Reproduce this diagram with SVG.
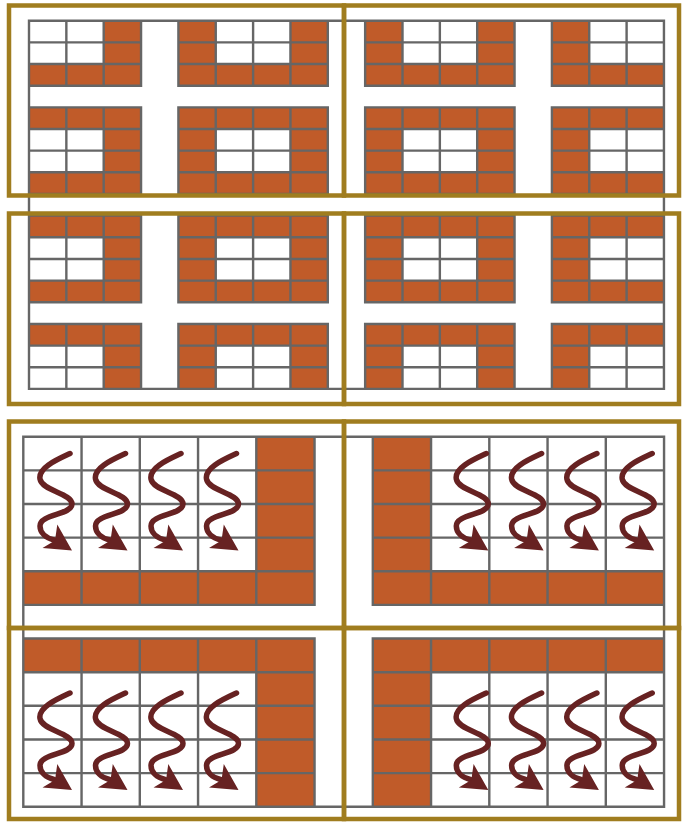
<svg xmlns="http://www.w3.org/2000/svg" width="683" height="822" viewBox="0 0 683 822">
<style>
.o{fill:#C05B29;fill-rule:evenodd}
.g{fill:none;stroke:#666;stroke-width:2.4;stroke-linecap:square}
.gold{fill:none;stroke:#A07D1F;stroke-width:4.5}
.aw{fill:none;stroke:#672222;stroke-width:5.5;stroke-linecap:round}
.ah{fill:#672222}
</style>
<defs>
<g id="arr">
<path class="aw" d="M70,453.5C56,460 38,468 40,479C42,491 72,493 72,504C72,515 40,514 40,526C40,533 46,538 54,540"/>
<path class="ah" d="M72,550.5L42.5,548L55,540.5L57.3,524.5Z"/>
</g>
</defs>
<rect width="683" height="822" fill="#fff"/>
<g id="top-grid" transform="translate(29,20.7) scale(37.35,21.66)">
<path class="o" d="M0,0H3V3H0Z M0,0H2V2H0Z M4,0H8V3H4Z M5,0H7V2H5Z M9,0H13V3H9Z M10,0H12V2H10Z M14,0H17V3H14Z M15,0H17V2H15Z
M0,4H3V8H0Z M0,5H2V7H0Z M4,4H8V8H4Z M5,5H7V7H5Z M9,4H13V8H9Z M10,5H12V7H10Z M14,4H17V8H14Z M15,5H17V7H15Z
M0,9H3V13H0Z M0,10H2V12H0Z M4,9H8V13H4Z M5,10H7V12H5Z M9,9H13V13H9Z M10,10H12V12H10Z M14,9H17V13H14Z M15,10H17V12H15Z
M0,14H3V17H0Z M0,15H2V17H0Z M4,14H8V17H4Z M5,15H7V17H5Z M9,14H13V17H9Z M10,15H12V17H10Z M14,14H17V17H14Z M15,15H17V17H15Z"/>
<path class="g" vector-effect="non-scaling-stroke" d="M0,0H17V17H0Z
M0,0V3M0,4V8M0,9V13M0,14V17
M1,0V3M1,4V8M1,9V13M1,14V17
M2,0V3M2,4V8M2,9V13M2,14V17
M3,0V3M3,4V8M3,9V13M3,14V17
M4,0V3M4,4V8M4,9V13M4,14V17
M5,0V3M5,4V8M5,9V13M5,14V17
M6,0V3M6,4V8M6,9V13M6,14V17
M7,0V3M7,4V8M7,9V13M7,14V17
M8,0V3M8,4V8M8,9V13M8,14V17
M9,0V3M9,4V8M9,9V13M9,14V17
M10,0V3M10,4V8M10,9V13M10,14V17
M11,0V3M11,4V8M11,9V13M11,14V17
M12,0V3M12,4V8M12,9V13M12,14V17
M13,0V3M13,4V8M13,9V13M13,14V17
M14,0V3M14,4V8M14,9V13M14,14V17
M15,0V3M15,4V8M15,9V13M15,14V17
M16,0V3M16,4V8M16,9V13M16,14V17
M17,0V3M17,4V8M17,9V13M17,14V17
M0,0H3M4,0H8M9,0H13M14,0H17
M0,1H3M4,1H8M9,1H13M14,1H17
M0,2H3M4,2H8M9,2H13M14,2H17
M0,3H3M4,3H8M9,3H13M14,3H17
M0,4H3M4,4H8M9,4H13M14,4H17
M0,5H3M4,5H8M9,5H13M14,5H17
M0,6H3M4,6H8M9,6H13M14,6H17
M0,7H3M4,7H8M9,7H13M14,7H17
M0,8H3M4,8H8M9,8H13M14,8H17
M0,9H3M4,9H8M9,9H13M14,9H17
M0,10H3M4,10H8M9,10H13M14,10H17
M0,11H3M4,11H8M9,11H13M14,11H17
M0,12H3M4,12H8M9,12H13M14,12H17
M0,13H3M4,13H8M9,13H13M14,13H17
M0,14H3M4,14H8M9,14H13M14,14H17
M0,15H3M4,15H8M9,15H13M14,15H17
M0,16H3M4,16H8M9,16H13M14,16H17
M0,17H3M4,17H8M9,17H13M14,17H17"/>
</g>
<g id="bottom-grid" transform="translate(23.3,436.7) scale(58.25,33.64)">
<path class="o" d="M0,0H5V5H0Z M0,0H4V4H0Z M6,0H11V5H6Z M7,0H11V4H7Z M0,6H5V11H0Z M0,7H4V11H0Z M6,6H11V11H6Z M7,7H11V11H7Z"/>
<path class="g" vector-effect="non-scaling-stroke" d="M0,0H11V11H0Z
M0,0V5M0,6V11 M1,0V5M1,6V11 M2,0V5M2,6V11 M3,0V5M3,6V11 M4,0V5M4,6V11 M5,0V5M5,6V11
M6,0V5M6,6V11 M7,0V5M7,6V11 M8,0V5M8,6V11 M9,0V5M9,6V11 M10,0V5M10,6V11 M11,0V5M11,6V11
M0,0H5M6,0H11 M0,1H5M6,1H11 M0,2H5M6,2H11 M0,3H5M6,3H11 M0,4H5M6,4H11 M0,5H5M6,5H11
M0,6H5M6,6H11 M0,7H5M6,7H11 M0,8H5M6,8H11 M0,9H5M6,9H11 M0,10H5M6,10H11 M0,11H5M6,11H11"/>
</g>
<g id="arrows">
<use href="#arr"/>
<use href="#arr" x="55.5"/>
<use href="#arr" x="111"/>
<use href="#arr" x="166.5"/>
<use href="#arr" x="416.3"/>
<use href="#arr" x="471.6"/>
<use href="#arr" x="526.9"/>
<use href="#arr" x="582.2"/>
<use href="#arr" y="239.5"/>
<use href="#arr" x="55.5" y="239.5"/>
<use href="#arr" x="111" y="239.5"/>
<use href="#arr" x="166.5" y="239.5"/>
<use href="#arr" x="416.3" y="239.5"/>
<use href="#arr" x="471.6" y="239.5"/>
<use href="#arr" x="526.9" y="239.5"/>
<use href="#arr" x="582.2" y="239.5"/>
</g>
<g id="frames">
<rect class="gold" x="9" y="5.5" width="335" height="190"/>
<rect class="gold" x="344" y="5.5" width="335" height="190"/>
<rect class="gold" x="9" y="213.5" width="335" height="190.5"/>
<rect class="gold" x="344" y="213.5" width="335" height="190.5"/>
<rect class="gold" x="9" y="421.5" width="335" height="206.5"/>
<rect class="gold" x="344" y="421.5" width="335" height="206.5"/>
<rect class="gold" x="9" y="628" width="335" height="191"/>
<rect class="gold" x="344" y="628" width="335" height="191"/>
</g>
</svg>
